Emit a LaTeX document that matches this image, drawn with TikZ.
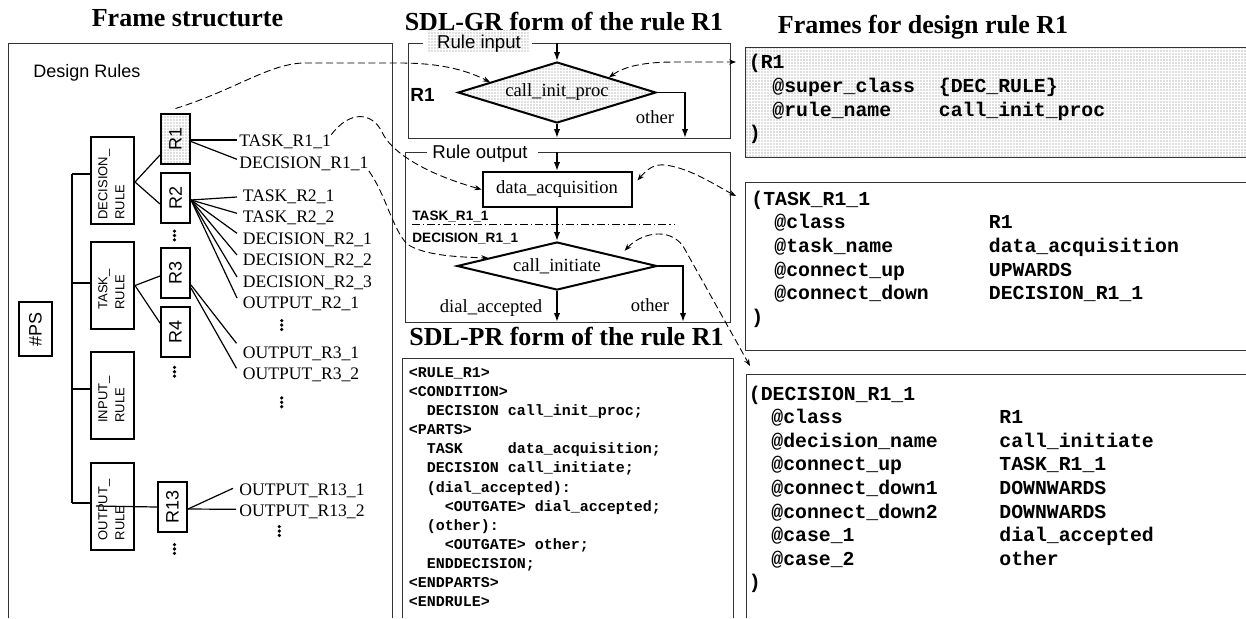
\documentclass[tikz,border=0pt]{standalone}
\usepackage{fontspec}
\usepackage{graphicx}
\setmainfont{Liberation Serif}
\setsansfont{Liberation Sans}
\setmonofont{Liberation Mono}
\usetikzlibrary{arrows.meta,calc,patterns,shapes.geometric}

% fine dot screen for the shaded areas
\pgfdeclarepatternformonly{finedots}{\pgfqpoint{-0.5pt}{-0.5pt}}{\pgfqpoint{0.5pt}{0.5pt}}{\pgfqpoint{1.5pt}{1.5pt}}{%
  \pgfpathcircle{\pgfqpoint{0pt}{0pt}}{0.33pt}\pgfusepath{fill}}

% n blank cells of the monospaced font
\newcommand\monosp[1]{\hspace*{\dimexpr0.6em*#1\relax}}
\newcommand\SdlFont{\fontsize{9.3}{11}\selectfont}
\newcommand\twoline[1]{\rotatebox{90}{\begin{tabular}{@{}l@{\hspace{4pt}}}#1\end{tabular}}}

\tikzset{
  panel/.style={draw=black!80, line width=0.5pt},
  heading/.style={anchor=base, inner sep=0pt, font=\bfseries\fontsize{13}{15}\selectfont},
  treeline/.style={line width=0.6pt},
  rulenode/.style={draw, line width=1pt, inner sep=0pt, minimum width=14.5pt, minimum height=25pt,
    font=\sffamily\fontsize{9}{10}\selectfont},
  classnode/.style={draw, line width=1pt, inner sep=0pt, minimum width=21.5pt, minimum height=43.5pt,
    font=\sffamily\fontsize{6.5}{8.5}\selectfont},
  leaf/.style={anchor=base west, inner sep=0pt, font=\fontsize{8.8}{10}\selectfont},
  dotfill/.style={pattern=finedots, pattern color=black!55},
  sdlbox/.style={draw, line width=1pt, inner sep=0pt, font=\SdlFont},
  sdltext/.style={inner sep=0pt, font=\SdlFont},
  gatelabel/.style={inner sep=0pt, anchor=base, font=\sffamily\fontsize{9.3}{11}\selectfont},
  smalltag/.style={anchor=base west, inner sep=0pt, font=\sffamily\bfseries\fontsize{6.8}{8}\selectfont},
  flow/.style={line width=0.8pt, -{Latex[length=4.5pt,width=3.2pt]}},
  dashlink/.style={line width=0.45pt, dash pattern=on 3.5pt off 1.8pt},
  linkend/.style={dashlink, -{Stealth[length=3.5pt,width=2.6pt]}},
  linkboth/.style={dashlink, {Stealth[length=3.5pt,width=2.6pt]}-{Stealth[length=3.5pt,width=2.6pt]}},
  prline/.style={anchor=base west, inner sep=0pt, font=\ttfamily\bfseries\fontsize{7.5}{9}\selectfont},
  frm/.style={anchor=base west, inner sep=0pt, font=\ttfamily\bfseries\fontsize{9.9}{11}\selectfont},
  vdots/.pic={\foreach \vv in {-4.4,0,4.4} \fill (0,\vv) circle[radius=0.9pt];}
}

\begin{document}
\begin{tikzpicture}[x=0.5pt,y=-0.5pt]
\useasboundingbox (0,0) rectangle (1246,618);

% ---------- headings
\node[heading] (hFrame) at (187.5,26) {Frame structurte};
\node[heading] (hGR) at (564,30) {SDL-GR form of the rule R1};
\node[heading] (hPR) at (566.5,345) {SDL-PR form of the rule R1};
\node[heading] (hFr) at (923,33) {Frames for design rule R1};

% ---------- frame structure tree
\draw[panel] (8,618) -- (8,43) -- (392,43) -- (392,618);
\node[anchor=base west, inner sep=0pt, font=\sffamily\fontsize{9}{10}\selectfont] (dr) at (33,77) {Design Rules};

\node[rulenode, minimum width=16.5pt, minimum height=27pt] (ps) at (35.5,329) {\rotatebox{90}{\#PS}};
\node[classnode] (drule) at (112.5,180.5) {\twoline{DECISION\_\\RULE}};
\node[classnode] (trule) at (112.5,285.5) {\twoline{TASK\_\\RULE}};
\node[classnode] (irule) at (112.5,395.5) {\twoline{INPUT\_\\RULE}};
\node[classnode] (orule) at (112.5,506) {\twoline{OUTPUT\_\\RULE}};

\node[rulenode, dotfill] (r1) at (175.5,138.5) {\rotatebox{90}{R1}};
\node[rulenode] (r2) at (175.5,197.5) {\rotatebox{90}{R2}};
\node[rulenode] (r3) at (175.5,273) {\rotatebox{90}{R3}};
\node[rulenode] (r4) at (175.5,332) {\rotatebox{90}{R4}};
\node[rulenode] (r13) at (172.5,507) {\rotatebox{90}{R13}};

\coordinate (t1) at (72,174);
\coordinate (t2) at (72,283);
\coordinate (t3) at (72,389);
\coordinate (t4) at (72,503);
\draw[treeline] (t1) -- (t4);
\draw[treeline] (t1) -- (t1 -| drule.west);
\draw[treeline] (t2) -- (t2 -| trule.west);
\draw[treeline] (t3) -- (t3 -| irule.west);
\draw[treeline] (t4) -- (t4 -| orule.west);
\draw[treeline] ($(ps.east)+(0,2)$) -- ($(ps.east)+(0,2)$ -| t1);

\draw[treeline] ($(drule.east)+(0,1.5)$) -- ($(r1.west)+(0,16.5)$);
\draw[treeline] ($(drule.east)+(0,1.5)$) -- ($(r2.west)+(0,6.5)$);
\draw[treeline] (trule.east) -- ($(r3.west)+(0,3)$);
\draw[treeline] (trule.east) -- ($(r4.west)+(0,-9)$);
\draw[treeline] ($(orule.west)+(6,0)$) -- (r13.west);

\node[leaf] (lT11) at (239,146.7) {TASK\_R1\_1};
\node[leaf] (lD11) at (239,168.3) {DECISION\_R1\_1};
\node[leaf] (lT21) at (242.5,201.7) {TASK\_R2\_1};
\node[leaf] (lT22) at (242.5,222.7) {TASK\_R2\_2};
\node[leaf] (lD21) at (242.5,244.3) {DECISION\_R2\_1};
\node[leaf] (lD22) at (242.5,265.7) {DECISION\_R2\_2};
\node[leaf] (lD23) at (242.5,287.3) {DECISION\_R2\_3};
\node[leaf] (lO21) at (242.5,308.3) {OUTPUT\_R2\_1};
\node[leaf] (lO31) at (242.5,358.3) {OUTPUT\_R3\_1};
\node[leaf] (lO32) at (242.5,379) {OUTPUT\_R3\_2};
\node[leaf] (lO131) at (239,495) {OUTPUT\_R13\_1};
\node[leaf] (lO132) at (239,516.7) {OUTPUT\_R13\_2};

\draw[treeline] ($(r1.east)+(0,1.5)$) -- ($(lT11.base west)+(-2,-6.7)$);
\draw[treeline] ($(r1.east)+(0,3)$) -- ($(lD11.base west)+(-2,-9)$);
\foreach \lf/\dy in {lT21/4.7, lT22/9.4, lD21/11, lD22/10.7, lD23/10.3, lO21/10.3}
  \draw[treeline] ($(r2.east)+(0,2.5)$) -- ($(\lf.base west)+(-5.5,-\dy)$);
\draw[treeline] ($(r3.east)+(0,12)$) -- ($(lO31.base west)+(-6,-15)$);
\draw[treeline] ($(r3.east)+(0,15)$) -- ($(lO32.base west)+(-6,-10.7)$);
\draw[treeline] ($(r13.east)+(0,2)$) -- ($(lO131.base west)+(-6,-6.7)$);
\draw[treeline] ($(r13.east)+(0,2)$) -- ($(lO132.base west)+(-3,-7.4)$);

\pic at (174.5,235.5) {vdots};
\pic at (174.5,371.7) {vdots};
\pic at (174.5,549) {vdots};
\pic at (281.7,325) {vdots};
\pic at (281.7,402.3) {vdots};
\pic at (279.3,531) {vdots};

% ---------- SDL-GR: rule input
\draw[panel] (423,43) -- (408,43) -- (408,138) -- (730,138) -- (730,43) -- (532,43);
\fill[dotfill] (426.7,30.5) rectangle (528.3,51.7);
\node[gatelabel] (lin) at (479,48.4) {Rule input};
\node[anchor=base west, inner sep=0pt, font=\sffamily\bfseries\fontsize{9.5}{11}\selectfont] (rlab) at (410,101.7) {R1};

\node[sdlbox, diamond, dotfill, shape aspect=3.2, minimum width=99pt, minimum height=30.5pt] (d1) at (557,92.5) {call\_init\_proc};
\coordinate (inTop) at (557,43);
\coordinate (inBot) at (557,138);
\coordinate (inRight) at (685,138);
\draw[flow] (inTop) -- (d1.north);
\draw[flow] (d1.south) -- (inBot);
\draw[flow] (d1.east) -| (inRight);
\node[sdltext] (oth1) at (655,117.5) {other};

% ---------- SDL-GR: rule output
\draw[panel] (427,152) -- (405,152) -- (405,322) -- (730,322) -- (730,152) -- (538,152);
\node[gatelabel] (lout) at (480,158.4) {Rule output};

\coordinate (sepL) at (412,224);
\coordinate (sepR) at (675,224);
\draw[line width=0.5pt, dash pattern=on 4pt off 1.5pt on 0.7pt off 1.5pt] (sepL) -- (sepR);
\node[smalltag] (sTask) at (412,220) {TASK\_R1\_1};
\node[smalltag] (sDec) at (412,242) {DECISION\_R1\_1};

\node[sdlbox, minimum width=74.5pt, minimum height=17.5pt] (da) at (557,189.5) {data\_acquisition};
\node[sdlbox, diamond, shape aspect=4, minimum width=100pt, minimum height=24pt] (d2) at (557,266) {call\_initiate};
\coordinate (outTop) at (557,152);
\coordinate (outBot) at (557,322);
\coordinate (outRight) at (683,322);
\draw[flow] (outTop) -- (da.north);
\draw[flow] (da.south) -- (d2.north);
\draw[flow] (d2.south) -- (outBot);
\draw[flow] (d2.east) -| (outRight);
\node[sdltext] (dacc) at (491,308) {dial\_accepted};
\node[sdltext] (oth2) at (650,305.5) {other};

% ---------- SDL-PR listing
\draw[panel] (402,618) -- (402,358) -- (733,358) -- (733,618);
\foreach \prl [count=\i from 0] in {
  {<RULE\_R1>},
  {<CONDITION>},
  {\monosp{2}DECISION call\_init\_proc;},
  {<PARTS>},
  {\monosp{2}TASK\monosp{5}data\_acquisition;},
  {\monosp{2}DECISION call\_initiate;},
  {\monosp{2}(dial\_accepted):},
  {\monosp{4}<OUTGATE> dial\_accepted;},
  {\monosp{2}(other):},
  {\monosp{4}<OUTGATE> other;},
  {\monosp{2}ENDDECISION;},
  {<ENDPARTS>},
  {<ENDRULE>}}
  \node[prline] (pr\i) at (408.5,{377.3+19.12*\i}) {\prl};

% ---------- frames: R1
\fill[dotfill] (745,47) rectangle (1246,157);
\draw[panel] (1246,47) -- (745,47) -- (745,157) -- (1246,157);
\node[frm] (fa0) at (748.5,68.5) {(R1};
\node[frm] (fa1) at (772,92.3) {@super\_class};
\node[frm] (fa1v) at (938.5,92.3) {\{DEC\_RULE\}};
\node[frm] (fa2) at (772,116.1) {@rule\_name};
\node[frm] (fa2v) at (938.5,116.1) {call\_init\_proc};
\node[frm] (fa3) at (748.5,139.9) {)};

% ---------- frames: TASK_R1_1
\draw[panel] (1246,182) -- (745,182) -- (745,350) -- (1246,350);
\node[frm] (fb0) at (751,205) {(TASK\_R1\_1};
\foreach \kk/\vl [count=\i] in {@class/R1, @task\_name/data\_acquisition, @connect\_up/UPWARDS, @connect\_down/DECISION\_R1\_1}{
  \node[frm] (fbk\i) at (774,{205+23.7*\i}) {\kk};
  \node[frm] (fbv\i) at (988.5,{205+23.7*\i}) {\vl};
}
\node[frm] (fb5) at (751,323.5) {)};

% ---------- frames: DECISION_R1_1
\draw[panel] (1246,374) -- (746,374) -- (746,618);
\node[frm] (fc0) at (748.5,400) {(DECISION\_R1\_1};
\foreach \kk/\vl [count=\i] in {@class/R1, @decision\_name/call\_initiate, @connect\_up/TASK\_R1\_1,
    @connect\_down1/DOWNWARDS, @connect\_down2/DOWNWARDS, @case\_1/dial\_accepted, @case\_2/other}{
  \node[frm] (fck\i) at (771,{400+23.6*\i}) {\kk};
  \node[frm] (fcv\i) at (999,{400+23.6*\i}) {\vl};
}
\node[frm] (fc8) at (748.5,588.8) {)};

% ---------- dashed cross references
\coordinate (fR1) at (736,62);
\coordinate (fTask) at (736,196);
\coordinate (fDec) at (750,366);

\draw[linkend] ($(r1.north)+(0,-4)$) .. controls (235,90) and (270,63) .. (305,63) -- (400,63)
  .. controls (445,63) and (470,72) .. ($(d1.north)!0.67!(d1.west)$);
\draw[linkend] (lT11.north east) .. controls (350,110) and (372,112) .. (382,132)
  .. controls (390,150) and (420,172) .. (da.west);
\draw[linkend] (lD11.south east) .. controls (386,195) and (392,228) .. (407,244)
  .. controls (425,256) and (460,257) .. ($(d2.north)!0.68!(d2.west)$);

\draw[linkboth] ($(d1.north)!0.52!(d1.east)$) .. controls (625,66) and (645,62) .. (675,62) -- (fR1);
\draw[linkboth] ($(da.east)+(5,-9)$) .. controls (648,168) and (655,164) .. (665,165)
  .. controls (690,168) and (715,185) .. (fTask);
\draw[linkboth] ($(d2.north)!0.67!(d2.east)+(0,-7)$) .. controls (640,234) and (668,226) .. (683,246) -- (fDec);
\end{tikzpicture}
\end{document}
